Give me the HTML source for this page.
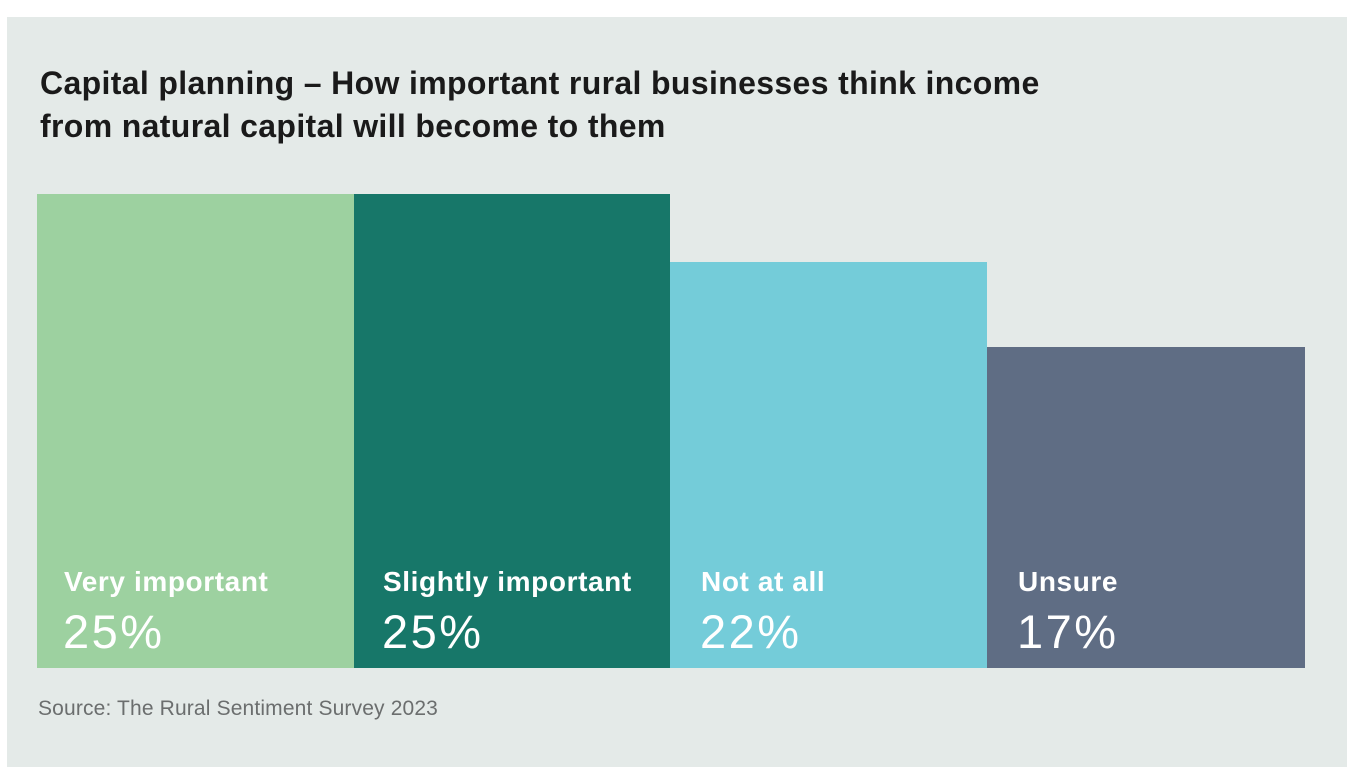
<!DOCTYPE html>
<html><head><style>
body{margin:0;width:1350px;height:779px;background:#fff;position:relative;overflow:hidden;font-family:"Liberation Sans",sans-serif}
.panel{position:absolute;left:7px;top:17px;width:1340px;height:750px;background:#e4eae8}
.t{position:absolute;left:40px;top:62px;font-size:32px;font-weight:bold;color:#1a1a1a;line-height:43px;letter-spacing:0.35px}
.b{position:absolute;bottom:111px}
.l{position:absolute;left:27px;top:0;font-size:28px;font-weight:bold;color:#fff;letter-spacing:0.6px}
.p{position:absolute;left:26px;font-size:47px;color:#fff;letter-spacing:2.5px}
.s{position:absolute;left:38px;top:697px;font-size:21px;color:#6b6e6e;letter-spacing:0.15px}
</style></head><body>
<div class="panel"></div>
<div class="t">Capital planning – How important rural businesses think income<br>from natural capital will become to them</div>
<div class="b" style="left:37px;width:317px;top:194px;background:#9dd1a0"><div class="l" style="top:372px">Very important</div><div class="p" style="top:410px">25%</div></div>
<div class="b" style="left:354px;width:316px;top:194px;background:#177769"><div class="l" style="top:372px;left:29px">Slightly important</div><div class="p" style="top:410px;left:28px">25%</div></div>
<div class="b" style="left:670px;width:317px;top:262px;background:#74ccd9"><div class="l" style="top:304px;left:31px">Not at all</div><div class="p" style="top:342px;left:30px">22%</div></div>
<div class="b" style="left:987px;width:318px;top:347px;background:#5f6d84"><div class="l" style="top:219px;left:31px">Unsure</div><div class="p" style="top:257px;left:30px">17%</div></div>
<div class="s">Source: The Rural Sentiment Survey 2023</div>
</body></html>
